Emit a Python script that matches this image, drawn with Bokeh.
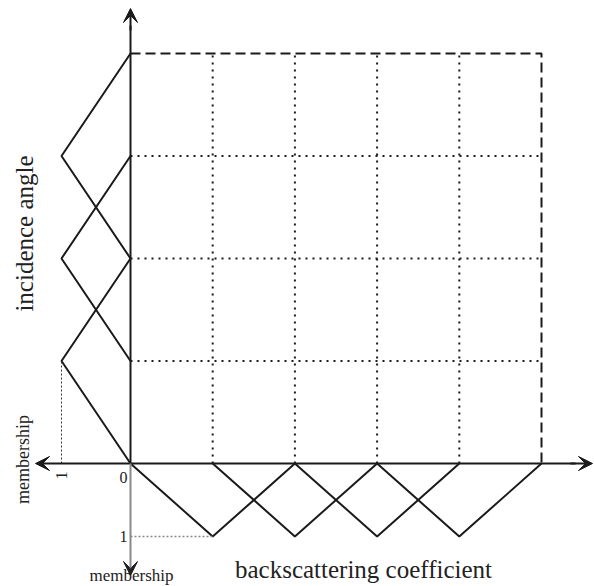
import math
from bokeh.plotting import figure
from bokeh.models import Arrow, VeeHead
from bokeh.core.properties import value
from bokeh.embed import file_html
from bokeh.resources import INLINE

# ---- data ----
x_grid = [1, 2, 3, 4]          # backscattering coefficient class boundaries
x_limit = 5
y_grid = [1, 2, 3]             # incidence angle class boundaries
y_limit = 4
x_centers = [1, 2, 3, 4]       # fuzzy set centres (backscattering)
y_centers = [1, 2, 3]          # fuzzy set centres (incidence angle)
membership = [0, 1, 0]         # triangular membership shape
x_label = "backscattering coefficient"
y_label = "incidence angle"
m_label = "membership"
tick_zero = "0"
tick_one = "1"

# ---- layout constants ----
CW = 82.2    # px per x unit
CH = 102.5   # px per y unit
OX, OY = 130.0, 463.0  # origin in figure px
W, H = 594, 586
MX = 69.0 / CW   # membership=1 length on left (data units)
MY = 73.0 / CH   # membership=1 length below (data units)

def sx(px):
    return (px - OX) / CW

def sy(py):
    return (OY - py) / CH

p = figure(width=W, height=H, x_range=(sx(0), sx(W)), y_range=(sy(H), sy(0)),
           output_backend="svg", toolbar_location=None, min_border=0)
p.axis.visible = False
p.grid.visible = False
p.outline_line_color = None

FONT = value("Liberation Serif")
INK = "#1a1a1a"

# grid: dotted interior lines
for gx in x_grid:
    p.line([gx, gx], [0, y_limit], line_color=INK, line_width=2, line_dash="2 5")
for gy in y_grid:
    p.line([0, x_limit], [gy, gy], line_color=INK, line_width=2, line_dash="2 5")
# dashed outer border
p.line([0, x_limit, x_limit], [y_limit, y_limit, 0], line_color=INK, line_width=2,
       line_dash="10 5")

# membership functions for backscattering (below the x axis)
for c in x_centers:
    xs = [c - 1, c, c + 1]
    ys = [-m * MY for m in membership]
    p.line(xs, ys, line_color=INK, line_width=2)
# membership functions for incidence angle (left of the y axis)
for c in y_centers:
    ys = [c - 1, c, c + 1]
    xs = [-m * MX for m in membership]
    p.line(xs, ys, line_color=INK, line_width=2)

# helper dotted lines to the "1" levels
p.line([-MX, -MX], [0, y_centers[0]], line_color="#333333", line_width=1, line_dash="2 2")
p.line([0, x_centers[0]], [-MY, -MY], line_color="#888888", line_width=1.5, line_dash="2 2")

# axes with arrows
head = dict(size=14, fill_color=INK, line_color=INK)
p.line([0, 0], [0, sy(25)], line_color=INK, line_width=2)
p.add_layout(Arrow(end=VeeHead(**head), x_start=0, y_start=sy(30), x_end=0, y_end=sy(8),
                   line_color=INK, line_width=2))
p.line([0, sx(575)], [0, 0], line_color=INK, line_width=2)
p.add_layout(Arrow(end=VeeHead(**head), x_start=sx(570), y_start=0, x_end=sx(592), y_end=0,
                   line_color=INK, line_width=2))
p.add_layout(Arrow(end=VeeHead(**head), x_start=0, y_start=0, x_end=sx(35), y_end=0,
                   line_color=INK, line_width=2))
p.add_layout(Arrow(end=VeeHead(size=14, fill_color="#222222", line_color="#222222"),
                   x_start=0, y_start=0, x_end=0, y_end=sy(575),
                   line_color="#8a8a8a", line_width=2))

# texts
TXT = dict(text_font=FONT, text_align="center", text_baseline="middle", text_color="#222222")
p.text(x=[sx(24)], y=[sy(233)], text=[y_label], angle=math.pi / 2,
       text_font_size="25px", **TXT)
p.text(x=[sx(363)], y=[sy(569)], text=[x_label], text_font_size="25px", **TXT)
p.text(x=[sx(22)], y=[sy(459)], text=[m_label], angle=math.pi / 2,
       text_font_size="18px", **TXT)
p.text(x=[sx(131)], y=[sy(575)], text=[m_label], text_font_size="17px", **TXT)
p.text(x=[sx(123)], y=[sy(477)], text=[tick_zero], text_font_size="16px", **TXT)
p.text(x=[sx(123)], y=[sy(536)], text=[tick_one], text_font_size="16px", **TXT)
p.text(x=[-MX], y=[sy(475)], text=[tick_one], angle=math.pi / 2,
       text_font_size="16px", **TXT)

open("out.html", "w").write(file_html(p, INLINE))
